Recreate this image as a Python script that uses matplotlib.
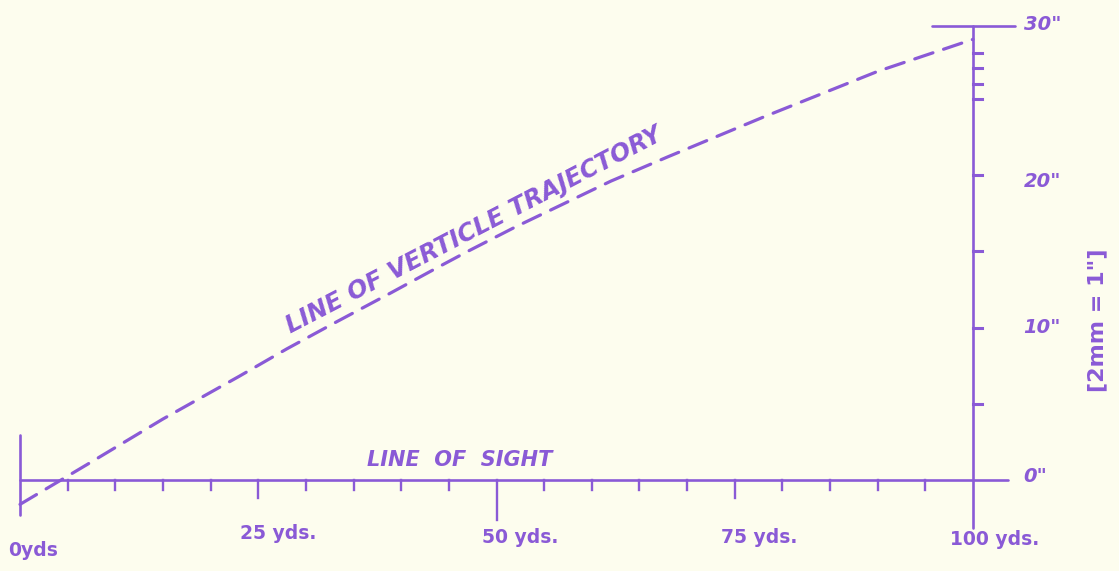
import matplotlib
matplotlib.use("Agg")
import matplotlib.pyplot as plt

# ---- data ----
traj_yds = [0, 7, 15, 23, 28, 33, 39, 44, 47, 52, 62, 68, 78, 90, 100]
traj_in = [-1.6, 1.0, 4.0, 6.8, 8.6, 10.3, 12.3, 14.0, 15.0, 16.6, 19.6, 21.2, 23.8, 26.8, 28.9]

x_minor_ticks = [5, 10, 15, 20, 30, 35, 40, 45, 55, 60, 65, 70, 80, 85, 90, 95]
x_major_ticks = [25, 75]
x_mid_tick = [50]
x_labels = ["0yds", "25 yds.", "50 yds.", "75 yds.", "100 yds."]
x_label_pos = [1.4, 27.1, 52.5, 77.6, 102.3]
x_label_y = [-4.6, -3.5, -3.8, -3.8, -3.9]

y_ticks = [5, 10, 15, 20, 25, 26, 27, 28]
y_labels = ['0"', '10"', '20"', '30"']
y_label_vals = [0.2, 10, 19.6, 29.9]

INK = "#8a5ad6"
BG = "#fdfdee"

fig = plt.figure(figsize=(11.19, 5.71), dpi=100, facecolor=BG)
ax = fig.add_axes([0, 0, 1, 1])
ax.set_facecolor(BG)
ax.set_xlim(-2.10, 115.32)
ax.set_ylim(-5.97, 31.48)
ax.axis("off")

lw = 1.9
# line of sight
ax.plot([0, 103.7], [0, 0], color=INK, lw=lw, solid_capstyle="round")
# left vertical
ax.plot([0, 0], [2.95, -2.3], color=INK, lw=lw, solid_capstyle="round")
# right vertical
ax.plot([100, 100], [29.8, -3.15], color=INK, lw=lw, solid_capstyle="round")
# top bar
ax.plot([95.7, 104.4], [29.8, 29.8], color=INK, lw=lw, solid_capstyle="round")

# x ticks
for t in x_minor_ticks:
    ax.plot([t, t], [0, -0.65], color=INK, lw=1.7)
for t in x_major_ticks:
    ax.plot([t, t], [0, -1.2], color=INK, lw=1.7)
for t in x_mid_tick:
    ax.plot([t, t], [0, -2.6], color=INK, lw=1.7)

# y ticks
for t in y_ticks:
    ax.plot([100, 100.9], [t, t], color=INK, lw=2.2)

# trajectory
ax.plot(traj_yds, traj_in, color=INK, lw=2.3, dashes=(6, 3.5), dash_capstyle="round")

font = dict(color=INK, family="DejaVu Sans", fontweight="bold")
for lab, xp, yp in zip(x_labels, x_label_pos, x_label_y):
    ax.text(xp, yp, lab, ha="center", va="center", fontsize=13.5, **font)
for lab, yv in zip(y_labels, y_label_vals):
    ax.text(105.3, yv, lab, ha="left", va="center", fontsize=14, style="italic", **font)

ax.text(113.0, 10.5, '[2mm = 1"]', rotation=90, ha="center", va="center",
        fontsize=16, **font)

ax.text(46.1, 1.3, "LINE  OF  SIGHT", ha="center", va="center", fontsize=15,
        style="italic", **font)
ax.text(48.0, 16.0, "LINE OF VERTICLE TRAJECTORY", rotation=27.5,
        rotation_mode="anchor", ha="center", va="baseline", fontsize=17.5,
        style="italic", **font)

fig.savefig("out.png", dpi=100, facecolor=BG)
